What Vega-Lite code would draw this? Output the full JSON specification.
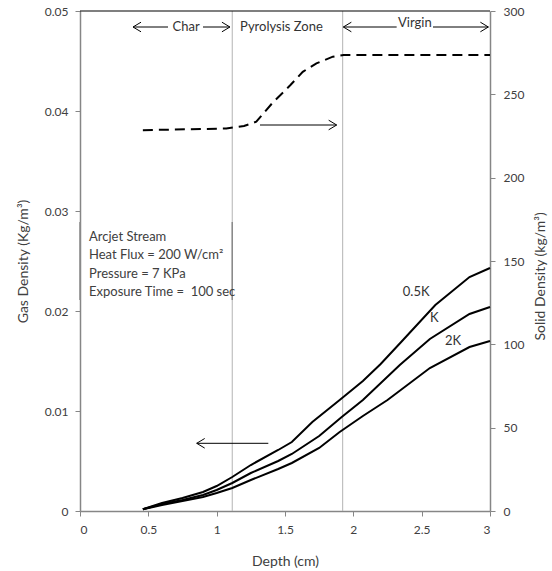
{
  "$schema": "https://vega.github.io/schema/vega-lite/v6.json",
  "width": 410,
  "height": 500,
  "autosize": {"type": "none"},
  "padding": {"left": 80, "top": 11, "right": 62, "bottom": 60},
  "background": "white",
  "config": {
    "font": "Lato",
    "view": {"stroke": null},
    "axis": {
      "grid": false,
      "labelFont": "Lato",
      "titleFont": "Lato",
      "labelFontSize": 12,
      "titleFontSize": 14,
      "labelColor": "#404040",
      "titleColor": "#404040",
      "titleFontWeight": "normal",
      "domainColor": "#868686",
      "tickColor": "#868686",
      "tickSize": 5
    }
  },
  "datasets": {
    "gas": [
      {"series": "0.5K", "depth": 0.46, "gas": 0.00017},
      {"series": "0.5K", "depth": 0.6, "gas": 0.0008},
      {"series": "0.5K", "depth": 0.75, "gas": 0.0013},
      {"series": "0.5K", "depth": 0.9, "gas": 0.0019},
      {"series": "0.5K", "depth": 1.0, "gas": 0.0025},
      {"series": "0.5K", "depth": 1.114, "gas": 0.0034},
      {"series": "0.5K", "depth": 1.25, "gas": 0.0046},
      {"series": "0.5K", "depth": 1.45, "gas": 0.0061},
      {"series": "0.5K", "depth": 1.55, "gas": 0.0069},
      {"series": "0.5K", "depth": 1.7, "gas": 0.0089},
      {"series": "0.5K", "depth": 1.9, "gas": 0.0111},
      {"series": "0.5K", "depth": 2.07, "gas": 0.013},
      {"series": "0.5K", "depth": 2.2, "gas": 0.0147},
      {"series": "0.5K", "depth": 2.35, "gas": 0.0169},
      {"series": "0.5K", "depth": 2.6, "gas": 0.0206},
      {"series": "0.5K", "depth": 2.85, "gas": 0.0234},
      {"series": "0.5K", "depth": 3.0, "gas": 0.0243},
      {"series": "K", "depth": 0.46, "gas": 0.00017},
      {"series": "K", "depth": 0.6, "gas": 0.0007},
      {"series": "K", "depth": 0.75, "gas": 0.0011},
      {"series": "K", "depth": 0.9, "gas": 0.0016},
      {"series": "K", "depth": 1.0, "gas": 0.0021},
      {"series": "K", "depth": 1.114, "gas": 0.0028},
      {"series": "K", "depth": 1.25, "gas": 0.0038},
      {"series": "K", "depth": 1.45, "gas": 0.005},
      {"series": "K", "depth": 1.55, "gas": 0.0057},
      {"series": "K", "depth": 1.75, "gas": 0.0075},
      {"series": "K", "depth": 1.915, "gas": 0.0094},
      {"series": "K", "depth": 2.07, "gas": 0.0111},
      {"series": "K", "depth": 2.34, "gas": 0.0146},
      {"series": "K", "depth": 2.56, "gas": 0.0172},
      {"series": "K", "depth": 2.85, "gas": 0.0197},
      {"series": "K", "depth": 3.0, "gas": 0.0204},
      {"series": "2K", "depth": 0.46, "gas": 0.00017},
      {"series": "2K", "depth": 0.6, "gas": 0.0006},
      {"series": "2K", "depth": 0.75, "gas": 0.001},
      {"series": "2K", "depth": 0.9, "gas": 0.0014},
      {"series": "2K", "depth": 1.0, "gas": 0.0018},
      {"series": "2K", "depth": 1.114, "gas": 0.0023},
      {"series": "2K", "depth": 1.25, "gas": 0.0031},
      {"series": "2K", "depth": 1.45, "gas": 0.0042},
      {"series": "2K", "depth": 1.55, "gas": 0.0048},
      {"series": "2K", "depth": 1.75, "gas": 0.0063},
      {"series": "2K", "depth": 1.9, "gas": 0.0079},
      {"series": "2K", "depth": 2.07, "gas": 0.0095},
      {"series": "2K", "depth": 2.25, "gas": 0.0111},
      {"series": "2K", "depth": 2.56, "gas": 0.0143},
      {"series": "2K", "depth": 2.85, "gas": 0.0164},
      {"series": "2K", "depth": 3.0, "gas": 0.017}
    ],
    "solid": [
      {"depth": 0.46, "solid": 228.5},
      {"depth": 1.07, "solid": 229.5},
      {"depth": 1.2, "solid": 231},
      {"depth": 1.29, "solid": 233.6},
      {"depth": 1.41, "solid": 245},
      {"depth": 1.54, "solid": 255.6},
      {"depth": 1.63, "solid": 263.5},
      {"depth": 1.73, "solid": 268.6},
      {"depth": 1.85, "solid": 272.6},
      {"depth": 1.93, "solid": 273.6},
      {"depth": 3.0, "solid": 273.6}
    ],
    "zones": [{"depth": 1.114}, {"depth": 1.922}],
    "top": [{"gas": 0.05}],
    "box": [
      {"depth": 0, "lo": 0.0211, "hi": 0.0289},
      {"depth": 1.114, "lo": 0.0211, "hi": 0.0289}
    ],
    "arrows": [
      {"from": 0.388, "to": 0.644, "gas": 0.0484},
      {"from": 0.9, "to": 1.097, "gas": 0.0484},
      {"from": 1.927, "to": 2.317, "gas": 0.0484},
      {"from": 2.583, "to": 2.988, "gas": 0.0484},
      {"from": 1.317, "to": 1.878, "gas": 0.0386},
      {"from": 0.854, "to": 1.378, "gas": 0.00677}
    ],
    "heads": [
      {"depth": 0.388, "gas": 0.0484, "dir": "left"},
      {"depth": 1.097, "gas": 0.0484, "dir": "right"},
      {"depth": 1.927, "gas": 0.0484, "dir": "left"},
      {"depth": 2.988, "gas": 0.0484, "dir": "right"},
      {"depth": 1.878, "gas": 0.0386, "dir": "right"},
      {"depth": 0.854, "gas": 0.00677, "dir": "left"}
    ],
    "labels": [
      {"depth": 0.776, "gas": 0.0484, "text": "Char"},
      {"depth": 1.474, "gas": 0.0484, "text": "Pyrolysis Zone"},
      {"depth": 2.45, "gas": 0.0488, "text": "Virgin"},
      {"depth": 2.46, "gas": 0.0219, "text": "0.5K"},
      {"depth": 2.593, "gas": 0.0193, "text": "K"},
      {"depth": 2.73, "gas": 0.017, "text": "2K"}
    ],
    "boxtext": [
      {"depth": 0.066, "gas": 0.0274, "text": "Arcjet Stream"},
      {"depth": 0.066, "gas": 0.0256, "text": "Heat Flux = 200 W/cm²"},
      {"depth": 0.066, "gas": 0.02375, "text": "Pressure = 7 KPa"},
      {"depth": 0.066, "gas": 0.0219, "text": "Exposure Time = \u00a0100 sec"}
    ]
  },
  "layer": [
    {
      "layer": [
        {
          "data": {"name": "zones"},
          "mark": {"type": "rule", "color": "#b3b3b3", "strokeWidth": 1},
          "encoding": {
            "x": {"field": "depth", "type": "quantitative", "scale": {"domain": [0, 3], "nice": false, "zero": false},
              "axis": {"values": [0, 0.5, 1, 1.5, 2, 2.5, 3], "format": "~g", "title": "Depth (cm)", "titleFontSize": 14, "labelPadding": 8, "titlePadding": 19, "domainWidth": 1.5}}
          }
        },
        {
          "data": {"name": "top"},
          "mark": {"type": "rule", "color": "black", "strokeWidth": 1.2},
          "encoding": {
            "y": {"field": "gas", "type": "quantitative", "scale": {"domain": [0, 0.05], "nice": false, "zero": true},
              "axis": {"values": [0, 0.01, 0.02, 0.03, 0.04, 0.05], "format": "~g", "title": "Gas Density (Kg/m³)", "titleFontSize": 14, "labelPadding": 7, "titlePadding": 14, "domainWidth": 1.5}}
          }
        },
        {
          "data": {"name": "box"},
          "mark": {"type": "rule", "color": "#8a8a8a", "strokeWidth": 1.5},
          "encoding": {
            "x": {"field": "depth", "type": "quantitative"},
            "y": {"field": "lo", "type": "quantitative"},
            "y2": {"field": "hi"}
          }
        },
        {
          "data": {"name": "gas"},
          "mark": {"type": "line", "color": "black", "strokeWidth": 2},
          "encoding": {
            "x": {"field": "depth", "type": "quantitative"},
            "y": {"field": "gas", "type": "quantitative"},
            "detail": {"field": "series"}
          }
        },
        {
          "data": {"name": "arrows"},
          "mark": {"type": "rule", "color": "black", "strokeWidth": 1},
          "encoding": {
            "x": {"field": "from", "type": "quantitative"},
            "x2": {"field": "to"},
            "y": {"field": "gas", "type": "quantitative"}
          }
        },
        {
          "data": {"name": "heads"},
          "mark": {"type": "point", "filled": false, "stroke": "black", "strokeWidth": 1, "size": 256, "opacity": 1},
          "encoding": {
            "x": {"field": "depth", "type": "quantitative"},
            "y": {"field": "gas", "type": "quantitative"},
            "shape": {"field": "dir", "type": "nominal", "legend": null,
              "scale": {"domain": ["left", "right"], "range": ["M1,-0.6L0,0L1,0.6", "M-1,-0.6L0,0L-1,0.6"]}}
          }
        },
        {
          "data": {"name": "labels"},
          "mark": {"type": "text", "align": "center", "baseline": "middle", "fontSize": 13, "color": "#333333", "font": "Lato"},
          "encoding": {
            "x": {"field": "depth", "type": "quantitative"},
            "y": {"field": "gas", "type": "quantitative"},
            "text": {"field": "text"}
          }
        },
        {
          "data": {"name": "boxtext"},
          "mark": {"type": "text", "align": "left", "baseline": "middle", "fontSize": 13, "color": "#404040", "font": "Lato"},
          "encoding": {
            "x": {"field": "depth", "type": "quantitative"},
            "y": {"field": "gas", "type": "quantitative"},
            "text": {"field": "text"}
          }
        }
      ]
    },
    {
      "data": {"name": "solid"},
      "mark": {"type": "line", "color": "black", "strokeWidth": 2, "strokeDash": [10, 6]},
      "encoding": {
        "x": {"field": "depth", "type": "quantitative"},
        "y": {"field": "solid", "type": "quantitative", "scale": {"domain": [0, 300], "nice": false},
          "axis": {"orient": "right", "values": [0, 50, 100, 150, 200, 250, 300], "title": "Solid Density (kg/m³)", "titleFontSize": 14, "titleAngle": -90, "titleY": 265, "labelPadding": 8, "titlePadding": 24, "domainWidth": 1.5}}
      }
    }
  ],
  "resolve": {"scale": {"y": "independent"}}
}
